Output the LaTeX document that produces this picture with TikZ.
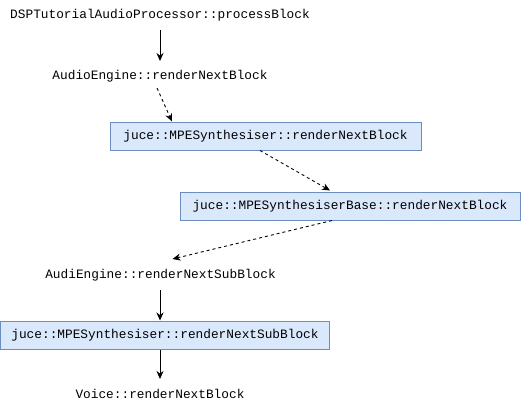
\documentclass[tikz,border=0pt]{standalone}
\usepackage{fontspec}
\setmonofont{Liberation Mono}
\usetikzlibrary{arrows.meta,calc}
\definecolor{boxfill}{HTML}{DAE8FC}
\definecolor{boxline}{HTML}{6C8EBF}
\begin{document}
\begin{tikzpicture}[x=1pt,y=-1pt,
  lbl/.style={font=\ttfamily\fontsize{12.8}{14}\selectfont, inner sep=0pt, text=black},
  fnbox/.style={lbl, draw=boxline, fill=boxfill, line width=1pt, minimum height=28pt},
  conn/.style={-{Stealth[length=8pt,width=7pt]}, line width=0.9pt, black},
  dconn/.style={conn, dash pattern=on 3pt off 3pt}]
\useasboundingbox[fill=white] (0,0) rectangle (521,410);
\node[lbl] (t1) at (160,15) {DSPTutorialAudioProcessor::processBlock};
\node[lbl] (t2) at (160,76) {AudioEngine::renderNextBlock};
\node[fnbox, minimum width=311pt] (b1) at (265.5,136) {juce::MPESynthesiser::renderNextBlock};
\node[fnbox, minimum width=340pt] (b2) at (350,206) {juce::MPESynthesiserBase::renderNextBlock};
\node[lbl] (t3) at (160.5,275) {AudiEngine::renderNextSubBlock};
\node[fnbox, minimum width=329pt] (b3) at (165,335) {juce::MPESynthesiser::renderNextSubBlock};
\node[lbl] (t4) at (160,394) {Voice::renderNextBlock};
\draw[conn] ($(t1.center)+(0,15)$) -- ($(t2.center)+(0,-15)$);
\draw[dconn] ($(t2.center)+(-3,12)$) -- ($(b1.north)+(-93.5,0)$);
\draw[dconn] ($(b1.south)+(-5.5,0)$) -- ($(b2.north)+(-20,-1)$);
\draw[dconn] ($(b2.south)+(-18,0)$) -- ($(t3.center)+(12,-16)$);
\draw[conn] ($(t3.center)+(-0.5,15)$) -- ($(b3.north)+(-5,0)$);
\draw[conn] ($(b3.south)+(-5,0)$) -- ($(t4.center)+(0,-15)$);
\end{tikzpicture}
\end{document}
